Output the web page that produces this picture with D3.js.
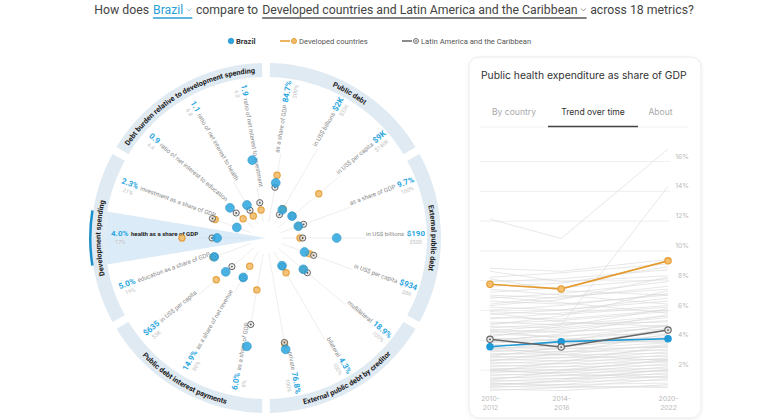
<!DOCTYPE html>
<html><head><meta charset="utf-8">
<script src="https://cdn.jsdelivr.net/npm/d3@7"></script>
<style>body{margin:0;background:#fff;} svg{display:block;font-family:Roboto,"Noto Sans",sans-serif;}</style>
</head><body>
<svg id="chart" width="770" height="420"></svg>
<script>
// ---------------- DATA ----------------
const groupNames = ["Public debt","External public debt","External public debt by creditor","Public debt interest payments","Development spending","Debt burden relative to development spending"];
const metricGroup = [0,0,0,1,1,1,2,2,2,3,3,3,4,4,4,5,5,5];
const metricLabels = ["as a share of GDP","in US$ billions","in US$ per capita","as a share of GDP","in US$ billions","in US$ per capita","multilateral","bilateral","private","as a share of GDP","as a share of net revenue","in US$ per capita","education as a share of GDP","health as a share of GDP","investment as a share of GDP","ratio of net interest to education","ratio of net interest to health","ratio of net interest to investment"];
const brazilLabels = ["84.7%","$2K","$9K","9.7%","$190","$934","18.9%","4.3%","76.8%","6.0%","14.9%","$635","5.0%","4.0%","2.3%","0.9","1.1","1.9"];
const maxLabels = ["300%","$33K","$140K","160%","$500","$8K","100%","100%","100%","8%","80%","$3K","19%","17%","21%","4.4","6.8","4.0"];
const scaleMax = [282,19,77,81,450,5337,79,43,99,8,70,2337,17.1,16.6,25,4.0,7.3,3.86];
const brazilValues = [84.7,2.0,9,9.7,190,934,18.9,4.3,76.8,6.0,14.9,635,5.0,4.0,2.3,0.9,1.1,1.9];
const developedValues = [103,2.2,31.4,9.9,52.5,1178,19.1,7.2,72,2.18,7.3,876,5.2,8.85,7.1,0.33,0.33,0.27];
const lacValues = [74,1.1,9.3,13.5,62.6,1365,22.4,4.6,71,4.52,15.3,477,4.9,4.7,7.7,0.63,0.73,0.51];
const highlighted = 13;

const periods = ["2010-2012","2014-2016","2020-2022"];
const periodMid = [2011,2015,2021];
const yTicks = [2,4,6,8,10,12,14,16];
const brazilTrend = [3.54,3.88,4.08];
const developedTrend = [7.73,7.42,9.3];
const lacTrend = [4.04,3.52,4.66];
const otherCountries = [[12.1,10.8,16.8],[4.6,5.0,14.3],[8.8,8.6,9.4],[8.2,8.5,9.1],[7.9,8.1,8.7],[8.6,7.9,8.3],[7.6,7.8,8.9],[7.2,7.5,8.1],[7.0,6.8,7.6],[6.8,7.1,7.9],[6.6,6.4,7.0],[6.4,6.9,7.4],[6.2,6.0,6.8],[6.0,6.3,7.1],[5.9,5.7,6.2],[5.7,6.0,6.6],[5.5,5.4,6.0],[5.4,5.8,6.3],[5.2,5.0,5.6],[5.1,5.3,5.9],[4.9,4.8,5.5],[4.8,5.1,5.2],[4.7,4.5,5.0],[4.5,4.7,5.3],[4.4,4.2,4.9],[4.3,4.6,4.7],[4.1,4.0,4.6],[4.0,4.3,4.4],[3.9,3.7,4.3],[3.8,4.0,4.1],[3.7,3.5,4.2],[3.6,3.8,3.9],[3.5,3.4,3.8],[3.4,3.6,4.0],[3.3,3.2,3.6],[3.2,3.4,3.5],[3.1,3.0,3.7],[3.0,3.2,3.3],[2.9,2.8,3.4],[2.8,3.0,3.1],[2.7,2.6,3.2],[2.6,2.8,2.9],[2.5,2.4,3.0],[2.4,2.6,2.7],[2.3,2.2,2.8],[2.2,2.4,2.5],[2.1,2.0,2.6],[2.0,2.2,2.3],[1.9,1.8,2.4],[1.8,2.0,2.1],[1.7,1.6,2.2],[1.6,1.8,1.9],[1.5,1.4,2.0],[1.4,1.6,1.7],[1.3,1.2,1.8],[1.2,1.4,1.5],[1.1,1.0,1.6],[1.0,1.2,1.3],[0.9,0.8,1.4],[0.8,1.0,1.1],[0.7,0.6,1.0],[0.6,0.8,0.9],[6.9,6.5,5.8],[5.8,5.2,4.9],[7.4,7.0,6.4],[4.2,4.9,6.1],[3.3,3.9,5.0],[2.6,3.1,4.4],[1.9,2.5,3.6],[1.3,1.9,2.7],[8.1,7.3,7.0],[6.3,6.7,8.2],[5.0,5.6,7.3],[2.0,1.7,1.5],[3.5,3.0,2.6],[4.6,4.1,3.8],[1.1,0.9,0.8],[0.9,1.3,2.0],[2.9,3.5,4.8],[3.9,4.4,5.7]];

// ---------------- STYLE ----------------
const C = {blue:"#2ba6e0", blueDark:"#1b8cc4", orange:"#f4be6e", orangeDark:"#e49a2c", gray:"#6a6a6a", band:"#e0eaf3"};
const svg = d3.select("#chart");
const defs = svg.append("defs");

// ---------------- TITLE ----------------
(function title(){
  const g = svg.append("g");
  const segs = [
    {t:"How does", c:"#444"},
    {t:"Brazil", c:"#2a9fd6", chev:"#7fbfe0", ul:"#2a9fd6"},
    {t:"compare to", c:"#444"},
    {t:"Developed countries and Latin America and the Caribbean", c:"#444", chev:"#888", ul:"#555"},
    {t:"across 18 metrics?", c:"#444"}
  ];
  const probe = g.append("text").attr("font-size",12.5).text(segs[3].t);
  const fs = 12.5*316/probe.node().getComputedTextLength();
  probe.remove();
  let x = 0; const base = 13.5;
  segs.forEach(s=>{
    const t = g.append("text").attr("x",x).attr("y",base).attr("font-size",fs).attr("fill",s.c).text(s.t);
    const w = t.node().getComputedTextLength();
    const x0 = x; x += w;
    if (s.chev){
      x += 3.5;
      g.append("path").attr("d",`M${x},${base-5} l2.3,2.3 l2.3,-2.3`).attr("fill","none").attr("stroke",s.chev).attr("stroke-width",0.9);
      x += 5;
    }
    if (s.ul) g.append("line").attr("x1",x0).attr("x2",x+0.5).attr("y1",base+4.5).attr("y2",base+4.5).attr("stroke",s.ul).attr("stroke-width",1.4);
    x += fs*0.33;
  });
  const total = x - fs*0.33;
  g.attr("transform",`translate(${93 + (602-total)/2},0)`);
})();

// ---------------- LEGEND ----------------
(function legend(){
  const y0 = 43.5, fs = 7.6;
  const g = svg.append("g").attr("font-size",fs);
  g.append("circle").attr("cx",231).attr("cy",y0-2.5).attr("r",2.8).attr("fill",C.blue).attr("stroke",C.blueDark).attr("stroke-width",0.6);
  g.append("text").attr("x",236).attr("y",y0).attr("font-weight","bold").attr("fill","#333").text("Brazil");
  g.append("line").attr("x1",280).attr("x2",290).attr("y1",y0-2.5).attr("y2",y0-2.5).attr("stroke",C.orangeDark).attr("stroke-width",1.5);
  g.append("circle").attr("cx",294).attr("cy",y0-2.5).attr("r",2.5).attr("fill",C.orange).attr("stroke",C.orangeDark).attr("stroke-width",1);
  g.append("text").attr("x",299).attr("y",y0).attr("fill","#555").text("Developed countries");
  g.append("line").attr("x1",402).attr("x2",412).attr("y1",y0-2.5).attr("y2",y0-2.5).attr("stroke","#666").attr("stroke-width",1.5);
  g.append("circle").attr("cx",416).attr("cy",y0-2.5).attr("r",2.5).attr("fill","#e8e8e8").attr("stroke","#666").attr("stroke-width",0.9);
  g.append("circle").attr("cx",416).attr("cy",y0-2.5).attr("r",0.8).attr("fill","#555");
  g.append("text").attr("x",421).attr("y",y0).attr("fill","#555").text("Latin America and the Caribbean");
})();

// ---------------- RADIAL ----------------
const cx = 266, cy = 238;
const R0 = 20, R1 = 140, bandIn = 161, bandOut = 175;
const RtR = 159, RtL = 155;
const ids = d3.range(metricLabels.length);
const angle = d3.scaleBand().domain(ids).range([0,360]).padding(0);
const aOf = i => angle(i) + angle.bandwidth()/2;
const rad = d => d*Math.PI/180;
const pt = (a,r) => [cx + r*Math.sin(rad(a)), cy - r*Math.cos(rad(a))];
const rScales = ids.map(i => d3.scaleLinear().domain([0,scaleMax[i]]).range([R0,R1]));

const radial = svg.append("g");

// highlight wedge
const grad = defs.append("radialGradient").attr("id","hl").attr("gradientUnits","userSpaceOnUse")
  .attr("cx",cx).attr("cy",cy).attr("r",bandIn);
grad.append("stop").attr("offset","0.1").attr("stop-color","#e4f0fa").attr("stop-opacity",0);
grad.append("stop").attr("offset","0.55").attr("stop-color","#e4f0fa").attr("stop-opacity",0.85);
grad.append("stop").attr("offset","1").attr("stop-color","#dcebf8").attr("stop-opacity",1);
const ah = aOf(highlighted);
radial.append("path").attr("transform",`translate(${cx},${cy})`)
  .attr("d", d3.arc()({innerRadius:0, outerRadius:bandIn, startAngle:rad(ah-9.5), endAngle:rad(ah+9.5)}))
  .attr("fill","url(#hl)");

// group bands
const groupIdx = groupNames.map((_,g)=> ids.filter(i=>metricGroup[i]===g));
groupIdx.forEach((list,g)=>{
  const s = angle(list[0]) + 1.3, e = angle(list[list.length-1]) + angle.bandwidth() - 1.3;
  radial.append("path").attr("transform",`translate(${cx},${cy})`)
    .attr("d", d3.arc()({innerRadius:bandIn, outerRadius:bandOut, startAngle:rad(s), endAngle:rad(e)}))
    .attr("fill",C.band);
  const mid = (s+e)/2;
  const bottom = mid > 120 && mid < 240;
  const rr = bottom ? 170.6 : 165.4;
  const p1 = pt(bottom? e : s, rr), p2 = pt(bottom? s : e, rr);
  defs.append("path").attr("id","gp"+g).attr("d",`M${p1[0]},${p1[1]} A${rr},${rr} 0 0 ${bottom?0:1} ${p2[0]},${p2[1]}`);
  radial.append("text").attr("font-size",7.3).attr("font-weight","bold").attr("fill","#222")
    .append("textPath").attr("href","#gp"+g).attr("startOffset","50%").attr("text-anchor","middle").text(groupNames[g]);
});
// active marker on band
radial.append("path").attr("transform",`translate(${cx},${cy})`)
  .attr("d", d3.arc()({innerRadius:bandOut-0.5, outerRadius:bandOut+2, startAngle:rad(ah-9), endAngle:rad(ah+9)}))
  .attr("fill","#1a90cc");

// spokes + labels
ids.forEach(i=>{
  const a = aOf(i);
  const right = a < 180;
  const g = radial.append("g").attr("transform",`translate(${cx},${cy}) rotate(${right ? a-90 : a+90})`);
  const hl = i === highlighted;
  const line = g.append("line").attr("y1",0).attr("y2",0).attr("stroke", hl ? "#d5e3ef" : "#ebebeb").attr("stroke-width",0.8);
  const t = g.append("text").attr("y",-2);
  const addLabel = () => t.append("tspan").attr("font-size",6.1).attr("fill", hl ? "#222" : "#8a8a8a").attr("font-weight", hl ? "bold" : "normal").text(metricLabels[i]);
  const addValue = () => t.append("tspan").attr("font-size",8).attr("font-weight","bold").attr("fill",C.blue).text(brazilLabels[i]);
  if (right){
    t.attr("x",RtR).attr("text-anchor","end");
    addLabel(); addValue().attr("dx",2.5);
    g.append("text").attr("x",RtR-3).attr("y",5.5).attr("text-anchor","end").attr("font-size",5.6).attr("fill","#c4c4c4").text(maxLabels[i]);
  } else {
    t.attr("x",-RtL).attr("text-anchor","start");
    addValue(); addLabel().attr("dx",2.5);
    g.append("text").attr("x",-RtL+4).attr("y",5.5).attr("text-anchor","start").attr("font-size",5.6).attr("fill","#c4c4c4").text(maxLabels[i]);
  }
  const L = t.node().getComputedTextLength();
  if (right) line.attr("x1",R0-4).attr("x2",RtR-L-3);
  else line.attr("x1",-(RtL-L-3)).attr("x2",-(R0-4));
});

// dots
const dots = radial.append("g");
ids.forEach(i=>{
  const a = aOf(i), sc = rScales[i];
  const pd = pt(a, sc(developedValues[i]));
  dots.append("circle").attr("cx",pd[0]).attr("cy",pd[1]).attr("r",3.1).attr("fill",C.orange).attr("stroke",C.orangeDark).attr("stroke-width",1.2).attr("opacity",0.9);
  const pl = pt(a, sc(lacValues[i]));
  dots.append("circle").attr("cx",pl[0]).attr("cy",pl[1]).attr("r",3.1).attr("fill","#e4e4e4").attr("fill-opacity",0.7).attr("stroke","#666").attr("stroke-width",1);
  dots.append("circle").attr("cx",pl[0]).attr("cy",pl[1]).attr("r",0.9).attr("fill","#555");
  const pb = pt(a, sc(brazilValues[i]));
  dots.append("circle").attr("cx",pb[0]).attr("cy",pb[1]).attr("r",4.4).attr("fill",C.blue).attr("stroke",C.blueDark).attr("stroke-width",0.7).attr("opacity",0.85);
});

// ---------------- RIGHT CARD ----------------
const shadow = defs.append("filter").attr("id","sh").attr("x","-10%").attr("y","-10%").attr("width","120%").attr("height","120%");
shadow.append("feDropShadow").attr("dx",0).attr("dy",1).attr("stdDeviation",2).attr("flood-color","#000").attr("flood-opacity",0.06);
const card = svg.append("g");
card.append("rect").attr("x",469).attr("y",57).attr("width",232).attr("height",361).attr("rx",10)
  .attr("fill","#fff").attr("stroke","#ececec").attr("stroke-width",1).attr("filter","url(#sh)");
(function(){
  const t = card.append("text").attr("x",481).attr("y",79).attr("font-family","Inter, Roboto, sans-serif").attr("font-size",11).attr("fill","#333").text("Public health expenditure as share of GDP");
  const w = t.node().getComputedTextLength();
  t.attr("font-size", 11*206/w);
})();
const tabs = [{t:"By country",x:514,c:"#aaa"},{t:"Trend over time",x:593,c:"#333"},{t:"About",x:660.5,c:"#aaa"}];
card.selectAll(".tab").data(tabs).enter().append("text").attr("class","tab")
  .attr("x",d=>d.x).attr("y",115).attr("text-anchor","middle").attr("font-family","Inter, Roboto, sans-serif")
  .attr("font-size",8.6).attr("fill",d=>d.c).text(d=>d.t);
card.append("line").attr("x1",480).attr("x2",689).attr("y1",127).attr("y2",127).attr("stroke","#f2f2f2");
card.append("line").attr("x1",548).attr("x2",638).attr("y1",126.5).attr("y2",126.5).attr("stroke","#444").attr("stroke-width",1.5);

const x = d3.scaleLinear().domain([periodMid[0], periodMid[2]]).range([490,668]);
const y = d3.scaleLinear().domain([0,16]).range([399.5,161]);

const yAxis = card.append("g").attr("transform","translate(480,0)")
  .call(d3.axisRight(y).tickValues(yTicks).tickSize(190).tickFormat(d=>d+"%"));
yAxis.select(".domain").remove();
yAxis.selectAll(".tick line").attr("stroke","#efefef");
yAxis.selectAll(".tick text").attr("x",209).attr("dy",-3).attr("text-anchor","end").attr("font-size",6.8).attr("fill","#bbb").attr("font-family","Inter, Roboto, sans-serif");

const xAxis = card.append("g").attr("transform","translate(0,393)")
  .call(d3.axisBottom(x).tickValues(periodMid).tickSize(0).tickFormat(""));
xAxis.select(".domain").remove();
xAxis.selectAll(".tick text").each(function(d,k){
  const parts = periods[k].split("-");
  const el = d3.select(this).attr("font-size",6.8).attr("fill","#bbb").attr("font-family","Inter, Roboto, sans-serif").attr("y",8);
  el.append("tspan").attr("x",0).attr("dy",0).text(parts[0]+"-");
  el.append("tspan").attr("x",0).attr("dy",8.5).text(parts[1]);
});

const lineGen = d3.line().x((d,k)=>x(periodMid[k])).y(d=>y(d));
card.append("g").selectAll("path").data(otherCountries).enter().append("path")
  .attr("d",lineGen).attr("fill","none").attr("stroke","#d6d6d6").attr("stroke-width",0.8).attr("opacity",0.75);

const series = [
  {v:developedTrend, stroke:C.orangeDark, fill:C.orange, lac:false},
  {v:brazilTrend, stroke:"#1e9ad6", fill:"#1e9ad6", lac:false},
  {v:lacTrend, stroke:"#666", fill:"#e4e4e4", lac:true}
];
series.forEach(s=>{
  card.append("path").attr("d",lineGen(s.v)).attr("fill","none").attr("stroke",s.stroke).attr("stroke-width",1.6);
});
series.forEach(s=>{
  s.v.forEach((v,k)=>{
    card.append("circle").attr("cx",x(periodMid[k])).attr("cy",y(v)).attr("r",3.2)
      .attr("fill",s.fill).attr("stroke",s.lac ? "#666" : s.stroke).attr("stroke-width",1.1);
    if (s.lac) card.append("circle").attr("cx",x(periodMid[k])).attr("cy",y(v)).attr("r",0.9).attr("fill","#555");
  });
});
</script></body></html>
